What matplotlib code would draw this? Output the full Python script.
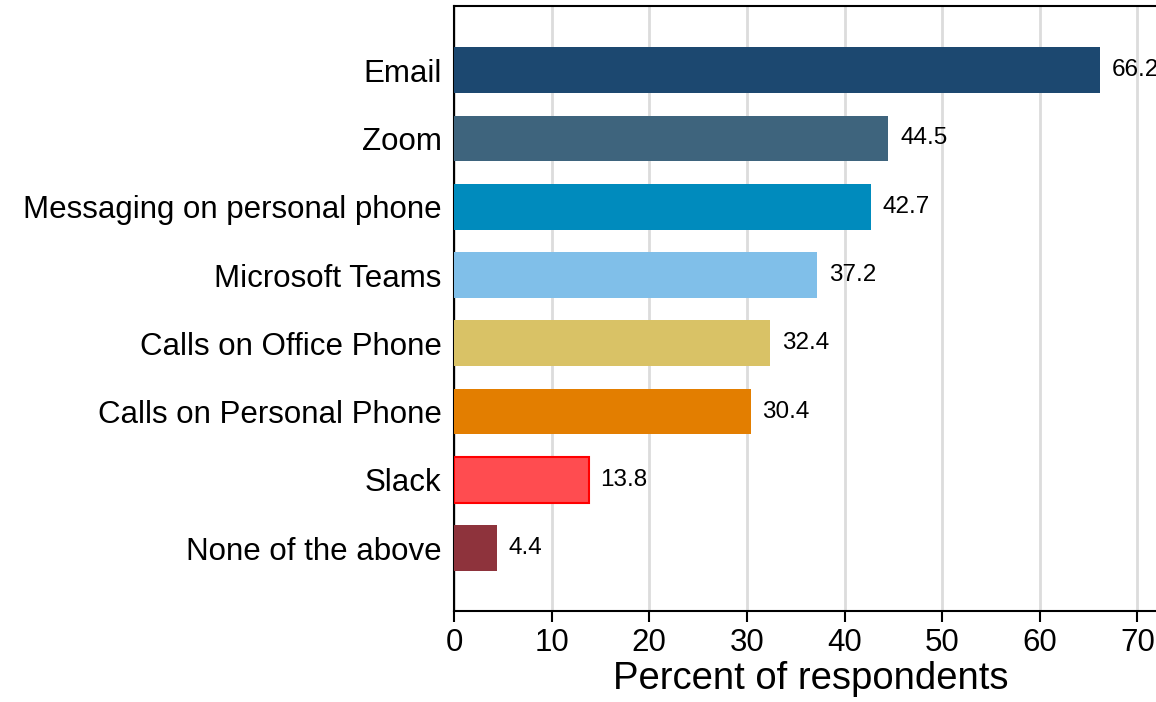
import matplotlib
matplotlib.use("Agg")
import matplotlib.pyplot as plt

plt.rcParams['font.family'] = ['Liberation Sans', 'DejaVu Sans']

# data
categories = ['Email', 'Zoom', 'Messaging on personal phone', 'Microsoft Teams',
              'Calls on Office Phone', 'Calls on Personal Phone', 'Slack',
              'None of the above']
values = [66.2, 44.5, 42.7, 37.2, 32.4, 30.4, 13.8, 4.4]
colors = ['#1c4870', '#3e647d', '#008bbd', '#80bfe9',
          '#d9c266', '#e37e00', '#ff4c50', '#8e333c']
edges = ['none', 'none', 'none', 'none', 'none', 'none', '#ff0000', 'none']
xticks = [0, 10, 20, 30, 40, 50, 60, 70]

fig = plt.figure(figsize=(11.56, 7.02), dpi=100)
ax = fig.add_axes([454 / 1156, 1 - 611 / 702, (1156 - 454) / 1156, (611 - 6) / 702])

n = len(categories)
ypos = [n - 1 - i for i in range(n)]
for y, v, c, e in zip(ypos, values, colors, edges):
    ax.barh(y, v, height=0.67, color=c, edgecolor=e,
            linewidth=1.5 if e != 'none' else 0, zorder=3)
    ax.text(v + 1.2, y, f'{v:.1f}', va='center', ha='left', fontsize=17.5,
            color='black', zorder=4)

ax.set_xlim(0, 71.9)
ax.set_ylim(-0.92, 7.94)
ax.set_yticks(ypos)
ax.set_yticklabels(categories, fontsize=22.5)
ax.set_xticks(xticks)
ax.set_xticklabels([str(t) for t in xticks], fontsize=22.5)
ax.tick_params(axis='y', length=0, pad=9)
ax.tick_params(axis='x', length=8, width=1.5, pad=4, direction='out')

ax.grid(axis='x', color='#dcdcdc', lw=2, zorder=0)
ax.set_axisbelow(True)

for s in ['left', 'bottom', 'top']:
    ax.spines[s].set_linewidth(1.5)
ax.spines['right'].set_visible(False)

ax.set_xlabel('Percent of respondents', fontsize=27.5)
ax.xaxis.set_label_coords(0.508, -0.082)

fig.savefig('out.png', dpi=100)
